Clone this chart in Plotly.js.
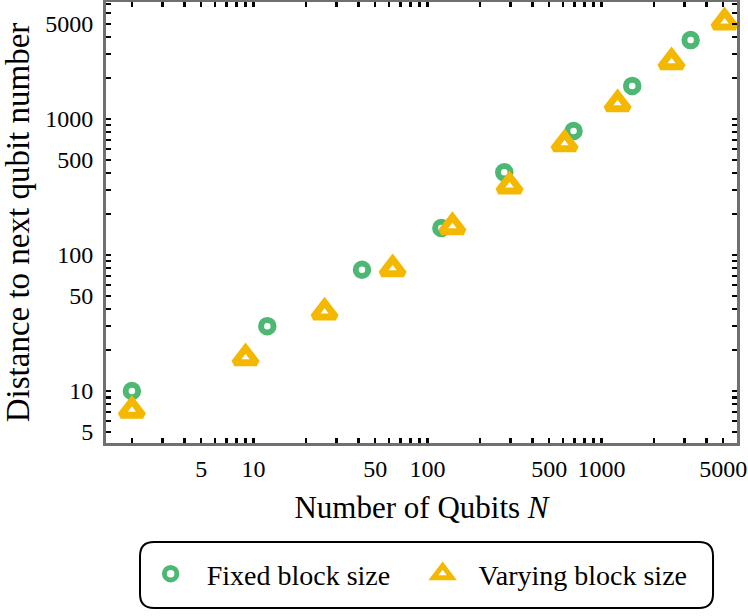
<!DOCTYPE html>
<html>
<head>
<meta charset="utf-8">
<script src="https://cdn.plot.ly/plotly-3.0.1.min.js"></script>
<style>html,body{margin:0;padding:0;background:#fff;}#chart{width:748px;height:616px;}</style>
</head>
<body>
<div id="chart"></div>
<script>
// Fixed block size series
const fixedN = [2, 12, 42, 120, 276, 690, 1500, 3250];
const fixedD = [10, 30, 78, 158, 405, 815, 1750, 3800];
// Varying block size series
const varyN = [2, 9, 25.6, 63, 139, 296, 613, 1236, 2524, 5090];
const varyD = [7.2, 17.5, 38, 79, 161, 321, 655, 1290, 2625, 5160];

// Tick positions and labels
const xTickVals = [2,3,4,5,6,7,8,9,10,20,30,40,50,60,70,80,90,100,200,300,400,500,600,700,800,900,1000,2000,3000,4000,5000];
const xTickText = ['','','','5','','','','','10','','','','50','','','','','100','','','','500','','','','','1000','','','','5000'];
const yTickVals = [5,6,7,8,9,10,20,30,40,50,60,70,80,90,100,200,300,400,500,600,700,800,900,1000,2000,3000,4000,5000,6000,7000];
const yTickText = ['5','','','','','10','','','','50','','','','','100','','','','500','','','','','1000','','','','5000','',''];

const green = '#4db873';
const yellow = '#f5b800';
const serif = 'Liberation Serif';

const traces = [
  {
    x: fixedN, y: fixedD, type: 'scatter', mode: 'markers', name: 'Fixed block size',
    legend: 'legend',
    marker: {symbol: 'circle', size: 12.5, color: '#ffffff', line: {color: green, width: 6}}
  },
  {
    x: varyN, y: varyD, type: 'scatter', mode: 'markers', name: 'Varying block size',
    legend: 'legend2',
    marker: {symbol: 'triangle-up', size: 19.5, color: '#ffffff', line: {color: yellow, width: 7}}
  }
];

const axisCommon = {
  type: 'log',
  showgrid: false,
  zeroline: false,
  showline: true,
  linecolor: '#707070',
  linewidth: 3,
  mirror: 'allticks',
  ticks: 'inside',
  ticklen: 5,
  tickwidth: 2.5,
  tickcolor: '#000000',
  tickmode: 'array'
};

const legendCommon = {
  orientation: 'h',
  xanchor: 'left',
  y: -0.297, yanchor: 'middle',
  bgcolor: 'rgba(0,0,0,0)',
  borderwidth: 0,
  font: {family: serif, size: 28, color: '#000'},
  itemwidth: 62
};

const layout = {
  width: 748, height: 616,
  margin: {l: 106, r: 11, t: 2, b: 173},
  paper_bgcolor: '#ffffff',
  plot_bgcolor: '#ffffff',
  font: {family: serif, color: '#000'},
  xaxis: Object.assign({}, axisCommon, {
    range: [Math.log10(1.42), Math.log10(6000)],
    tickvals: xTickVals, ticktext: xTickText,
    tickfont: {family: serif, size: 24, color: '#000'},
    ticklabelstandoff: 2,
    title: {text: 'Number of Qubits <i>N</i>', font: {family: serif, size: 31, color: '#000'}, standoff: 16}
  }),
  yaxis: Object.assign({}, axisCommon, {
    range: [Math.log10(4.15), Math.log10(7240)],
    tickvals: yTickVals, ticktext: yTickText,
    tickfont: {family: serif, size: 24, color: '#000'},
    ticklabelstandoff: 5,
    title: {text: 'Distance to next qubit number', font: {family: serif, size: 33, color: '#000'}, standoff: 7}
  }),
  showlegend: true,
  legend: Object.assign({}, legendCommon, {x: 0.0454}),
  legend2: Object.assign({}, legendCommon, {x: 0.4764}),
  shapes: [{
    type: 'path', xref: 'paper', yref: 'paper',
    path: 'M 0.0761,-0.2245 L 0.9398,-0.2245 Q 0.9620,-0.2245 0.9620,-0.2562 L 0.9620,-0.3424 Q 0.9620,-0.3741 0.9398,-0.3741 L 0.0761,-0.3741 Q 0.0539,-0.3741 0.0539,-0.3424 L 0.0539,-0.2562 Q 0.0539,-0.2245 0.0761,-0.2245 Z',
    line: {color: '#000000', width: 2},
    fillcolor: 'rgba(0,0,0,0)'
  }]
};

Plotly.newPlot('chart', traces, layout, {displayModeBar: false, staticPlot: true});
</script>
</body>
</html>
